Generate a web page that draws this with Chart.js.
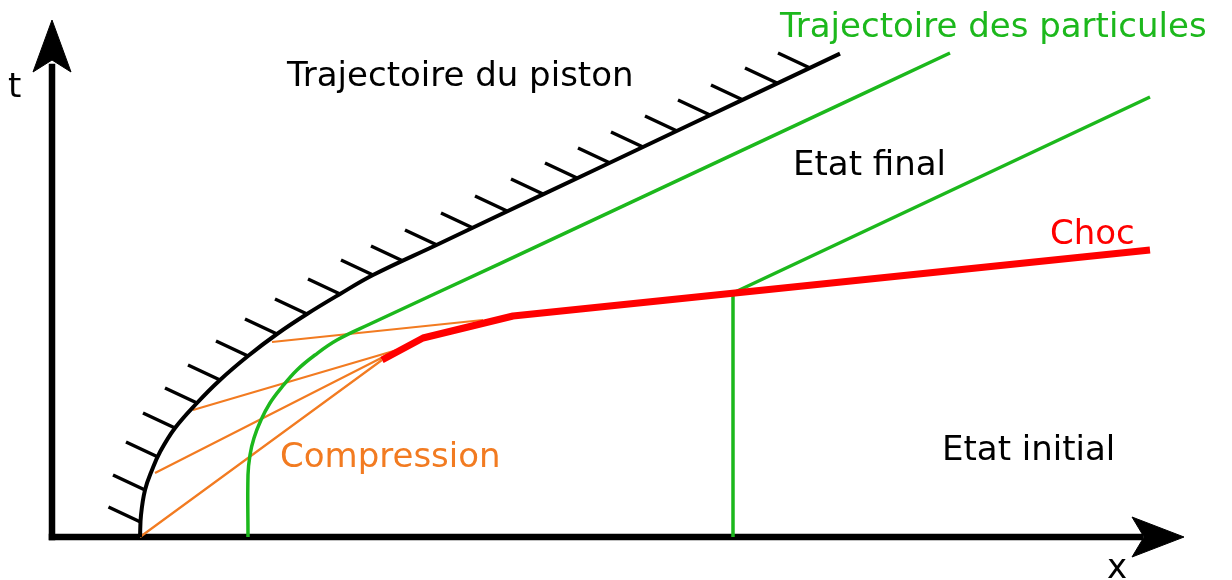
<!DOCTYPE html>
<html>
<head>
<meta charset="utf-8"/>
<title>Piston et choc</title>
<style>
    html, body { margin: 0; padding: 0; background: #fff; }
    #box { width: 1232px; height: 580px; }
</style>
<script src="https://cdn.jsdelivr.net/npm/chart.js@4/dist/chart.umd.min.js"></script>
</head>
<body>
<div id="box"><canvas id="chart"></canvas></div>
<script>
    // data units: x to the right of the t axis, t up from the x axis
    const pistonX = [88, 89, 93, 100, 108, 123, 145, 168, 196, 225, 255, 288, 321, 385, 491, 591, 691, 788];
    const pistonT = [0, 22, 47, 67, 85, 109, 134, 157, 181, 203, 223, 243, 262, 292.3, 342.6, 390, 437.4, 483.4];

    // where the hatch strokes touch the piston
    const hatchX = [88.5, 93, 106, 123, 145, 168, 196, 225, 255, 288, 321, 351, 385, 421, 455, 491, 525, 558, 591, 625, 658, 691, 725, 758];
    const hatchT = [15, 47, 80, 109, 134, 157, 181, 203, 223, 243, 262, 276, 292, 309, 326, 343, 359, 374, 390, 406, 422, 437, 454, 469];

    const particle1X = [196, 196, 198, 202, 209, 218, 230, 245, 263, 285, 318, 448, 698, 898];
    const particle1T = [0, 62, 82, 99, 117, 134, 150, 167, 182, 197, 213, 273.4, 390.4, 484];
    const particle2X = [681, 681, 1098];
    const particle2T = [0, 244, 440];

    const chocX = [330, 371, 461, 1098];
    const chocT = [177, 199, 221, 287];

    // compression fan: start on the piston, end on the shock
    const fanX0 = [88, 103, 141, 220];
    const fanT0 = [0, 64, 127, 195];
    const fanX1 = [330, 341, 345, 431];
    const fanT1 = [177, 185, 187, 217];

    const axisTX = [0, 0];
    const axisTT = [0, 470];
    const axisXX = [0, 1088];
    const axisXT = [0, 0];
    const headTX = [0, 19, 0, -19, 0];
    const headTT = [517, 465, 477, 465, 517];
    const headXX = [1132, 1080, 1092, 1080, 1132];
    const headXT = [0, 20, 0, -20, 0];

    const green = '#1cb81c';
    const orange = '#f27b21';
    const red = '#ff0000';

    const labels = [
        { text: 'Trajectoire du piston', x: 235, t: 451, color: '#000' },
        { text: 'Trajectoire des particules', x: 728, t: 500, color: green },
        { text: 'Etat final', x: 741, t: 362, color: '#000' },
        { text: 'Choc', x: 998, t: 293, color: red },
        { text: 'Compression', x: 228, t: 70, color: orange },
        { text: 'Etat initial', x: 890, t: 77, color: '#000' },
        { text: 't', x: -44, t: 440, color: '#000' },
        { text: 'x', x: 1055, t: -41, color: '#000' }
    ];

    function pts(xs, ts) {
        return xs.map((v, i) => ({ x: v, y: ts[i] }));
    }

    // one short stroke per hatch point, up and to the left of the piston
    const hatch = [];
    for (let i = 0; i < hatchX.length; i++) {
        hatch.push({ x: hatchX[i], y: hatchT[i] });
        hatch.push({ x: hatchX[i] - 32, y: hatchT[i] + 15 });
        hatch.push({ x: hatchX[i], y: null });
    }

    const fan = [];
    for (let i = 0; i < fanX0.length; i++) {
        fan.push({ x: fanX0[i], y: fanT0[i] });
        fan.push({ x: fanX1[i], y: fanT1[i] });
        fan.push({ x: fanX1[i], y: null });
    }

    function line(data, color, width, tension) {
        return {
            data: data,
            showLine: true,
            borderColor: color,
            borderWidth: width,
            pointRadius: 0,
            tension: tension || 0,
            fill: false,
            borderCapStyle: 'butt'
        };
    }

    const textPlugin = {
        id: 'texts',
        afterDatasetsDraw(chart) {
            const ctx = chart.ctx;
            const sx = chart.scales.x, sy = chart.scales.y;
            ctx.save();
            ctx.font = '34px "DejaVu Sans"';
            ctx.textBaseline = 'alphabetic';
            ctx.textAlign = 'left';
            labels.forEach((l) => {
                ctx.fillStyle = l.color;
                ctx.fillText(l.text, sx.getPixelForValue(l.x), sy.getPixelForValue(l.t));
            });
            ctx.restore();
        }
    };

    const axisT = line(pts(axisTX, axisTT), '#000', 6.5);
    axisT.borderCapStyle = 'square';
    const axisX = line(pts(axisXX, axisXT), '#000', 6.5);
    axisX.borderCapStyle = 'square';
    const headT = line(pts(headTX, headTT), '#000', 1);
    headT.fill = 'shape';
    headT.backgroundColor = '#000';
    const headX = line(pts(headXX, headXT), '#000', 1);
    headX.fill = 'shape';
    headX.backgroundColor = '#000';

    const chocSet = line(pts(chocX, chocT), red, 7);
    chocSet.borderJoinStyle = 'round';

    new Chart(document.getElementById('chart'), {
        type: 'scatter',
        data: {
            datasets: [
                chocSet,
                line(pts(pistonX, pistonT), '#000', 4, 0.4),
                line(hatch, '#000', 3.5),
                line(pts(particle1X, particle1T), green, 3.5, 0.4),
                line(pts(particle2X, particle2T), green, 3.5),
                line(fan, orange, 2.2),
                axisT, axisX, headT, headX
            ]
        },
        options: {
            responsive: true,
            maintainAspectRatio: false,
            animation: false,
            layout: { padding: 0 },
            plugins: {
                legend: { display: false },
                tooltip: { enabled: false }
            },
            scales: {
                x: { type: 'linear', display: false, min: -52, max: 1180 },
                y: { type: 'linear', display: false, min: -43, max: 537 }
            }
        },
        plugins: [textPlugin]
    });
</script>
</body>
</html>
